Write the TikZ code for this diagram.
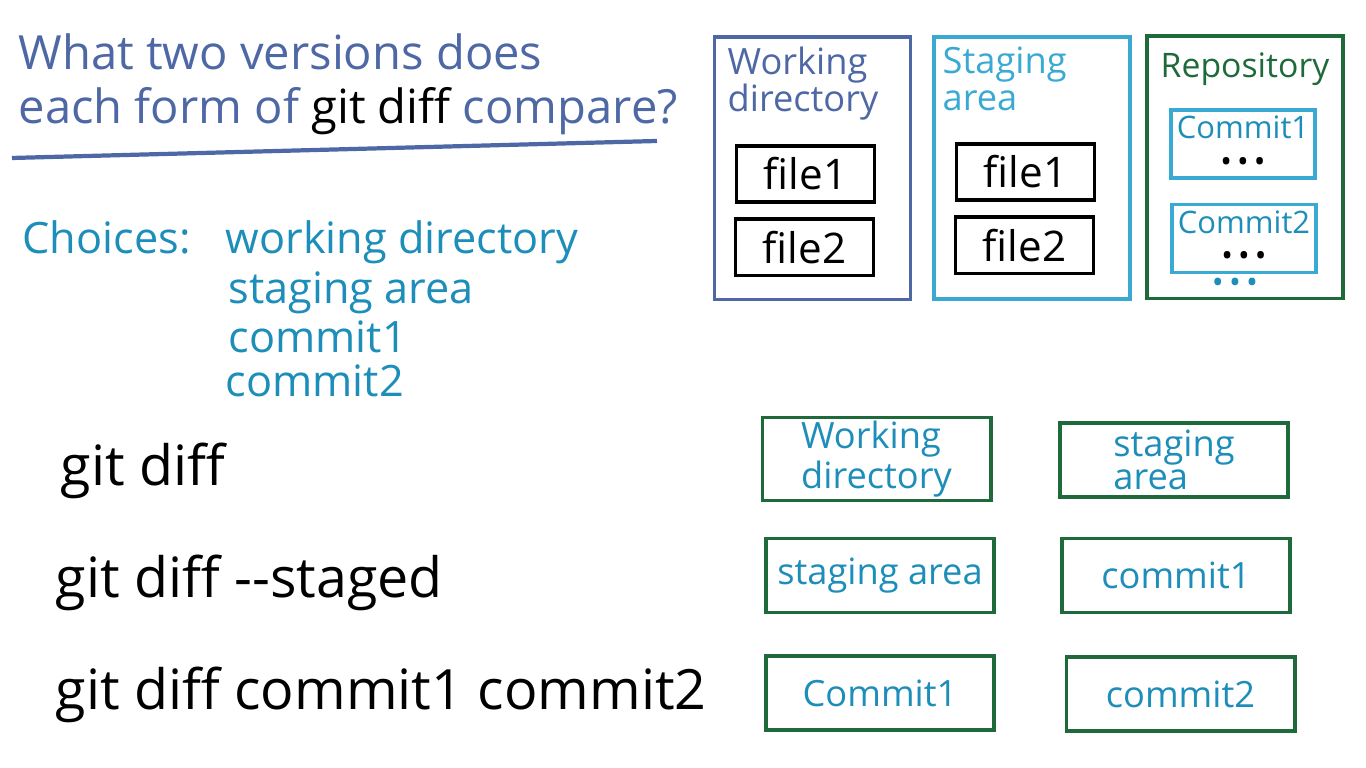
\documentclass[tikz,border=0pt]{standalone}
\usepackage{fontspec}
\setmainfont{Open Sans}
\definecolor{qblue}{HTML}{4E68A6}
\definecolor{qteal}{HTML}{1D8DB9}
\definecolor{qcyan}{HTML}{3AA9D3}
\definecolor{qgreen}{HTML}{1F6A3A}
\begin{document}
\begin{tikzpicture}[x=0.01cm, y=-0.01cm,
  txt/.style={anchor=base west, inner sep=0pt},
  title/.style={txt, text=qblue, font=\fontsize{13.4}{16}\selectfont},
  choice/.style={txt, text=qteal, font=\fontsize{12.3}{15}\selectfont},
  cmd/.style={txt, text=black, font=\fontsize{15.8}{18}\selectfont},
  area/.style={draw, line width=1.1pt, minimum width=1.96cm, minimum height=2.62cm},
  arealabel/.style={anchor=north west, inner sep=0pt, align=left,
                    font=\fontsize{10.3}{10.5}\selectfont},
  filebox/.style={draw=black, line width=1.1pt, minimum width=1.38cm,
                  minimum height=0.48cm, font=\fontsize{12}{14}\selectfont},
  commitbox/.style={draw=qcyan, line width=1.1pt, minimum width=1.44cm,
                    minimum height=0.68cm, inner sep=1pt, align=center, text=qteal,
                    font=\fontsize{8.8}{9.5}\selectfont},
  answer/.style={draw=qgreen, line width=1.1pt, minimum width=2.28cm,
                 minimum height=0.74cm, inner sep=1pt, align=left, text=qteal,
                 font=\fontsize{10.3}{9.5}\selectfont}
]
  \useasboundingbox (0,0) rectangle (1366,768);

  % question
  \node[title] (q1) at (18,70)  {What two versions does};
  \node[title] (q2) at (18,124) {each form of {\color{black}git diff} compare?};
  \coordinate (ul1) at (12,158);
  \coordinate (ul2) at (657,141);
  \draw[qblue, line width=1.2pt] (ul1) -- (ul2);

  % choices
  \node[choice] (ch)  at (22,254)  {Choices:};
  \node[choice] (ch1) at (225,254) {working directory};
  \node[choice] (ch2) at (228,304) {staging area};
  \node[choice] (ch3) at (228,353) {commit1};
  \node[choice] (ch4) at (225,397) {commit2};

  % commands
  \node[cmd] (c1) at (60,486) {git diff};
  \node[cmd] (c2) at (55,598) {git diff -{}-staged};
  \node[cmd] (c3) at (55,710) {git diff commit1 commit2};

  % the three areas
  \node[area, draw=qblue]  (wd)   at (812.5,168.5) {};
  \node[area, draw=qcyan]  (sa)   at (1032,168)    {};
  \node[area, draw=qgreen] (repo) at (1245,167.5)  {};
  \node[arealabel, text=qblue]  (wdl)   at (727,46)  {Working\\directory};
  \node[arealabel, text=qcyan]  (sal)   at (942,46)  {Staging\\area};
  \node[arealabel, text=qgreen, font=\fontsize{9.6}{10}\selectfont] (repol) at (1160,52) {Repository};

  \node[filebox] (wdf1) at (805.5,174)  {file1};
  \node[filebox] (wdf2) at (804.5,247.5) {file2};
  \node[filebox] (saf1) at (1025.5,172) {file1};
  \node[filebox] (saf2) at (1024.5,245.5) {file2};

  \node[commitbox] (rc1) at (1243,144)   {Commit1\\\textcolor{black}{\textbullet\,\textbullet\,\textbullet}};
  \node[commitbox] (rc2) at (1244,238.5) {Commit2\\\textcolor{black}{\textbullet\,\textbullet\,\textbullet}};
  \node[text=qteal, inner sep=0pt, font=\fontsize{9}{10}\selectfont] (rdots) at (1235,286) {\textbullet\,\textbullet\,\textbullet};

  % answers
  \node[answer] (a1l) at (876.5,459) {Working\\directory};
  \node[answer] (a1r) at (1174,460)  {staging\\area};
  \node[answer] (a2l) at (880,575.5) {staging area};
  \node[answer] (a2r) at (1176,575.5) {commit1};
  \node[answer] (a3l) at (880,693)   {Commit1};
  \node[answer] (a3r) at (1180.5,694) {commit2};
\end{tikzpicture}
\end{document}
